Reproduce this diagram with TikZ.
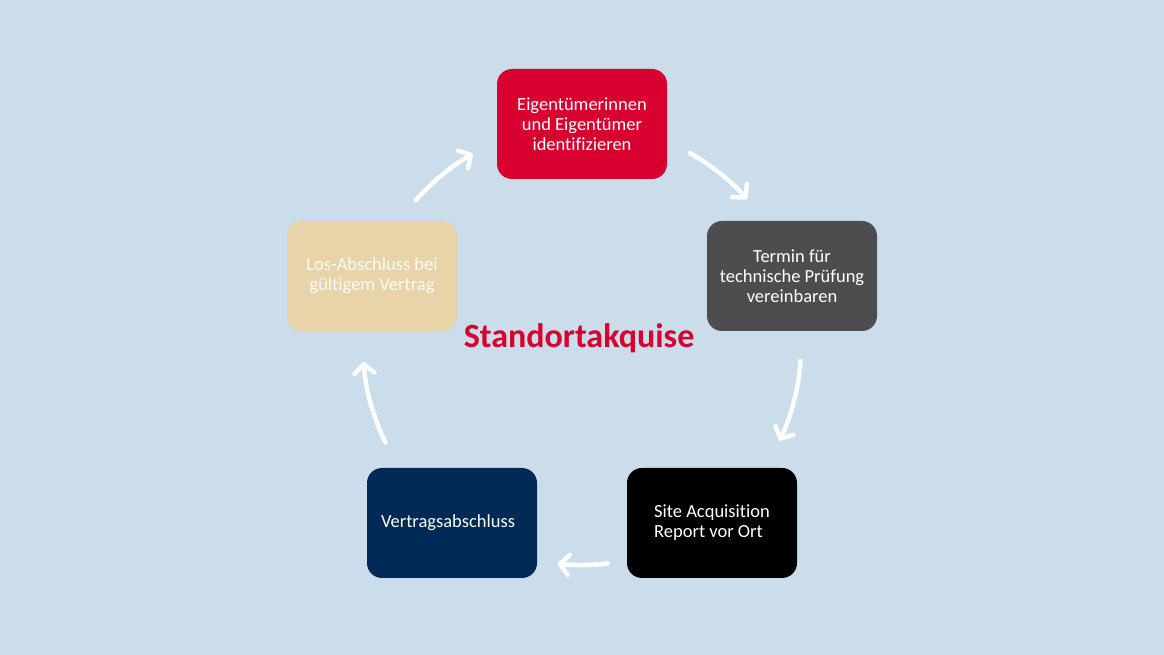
\documentclass[tikz,border=0pt]{standalone}
\usepackage{fontspec}
\setmainfont{Carlito}[Ligatures=NoCommon]
\usetikzlibrary{arrows.meta}
\definecolor{bg}{RGB}{203,221,235}
\definecolor{cred}{RGB}{215,0,46}
\definecolor{cgrey}{RGB}{77,77,79}
\definecolor{cnavy}{RGB}{0,41,86}
\definecolor{cbeige}{RGB}{232,212,168}
\begin{document}
\begin{tikzpicture}[x=1pt,y=1pt,
  stepbox/.style={rounded corners=15pt,minimum width=170pt,minimum height=110pt,
    align=center,text=white,font=\fontsize{18.5}{20}\selectfont,inner sep=0pt},
  cyc/.style={draw=white,line width=4.5pt,line cap=round,
    -{Straight Barb[length=9pt,width=20pt,line width=4.5pt,round]}}]
\fill[bg] (0,0) rectangle (1164,655);
\useasboundingbox (0,0) rectangle (1164,655);
\coordinate (C) at (582,309);
\node[stepbox,fill=cred] (red) at (582,531) {Eigentümerinnen\\und Eigentümer\\identifizieren};
\node[stepbox,fill=cgrey] (grey) at (792,379) {Termin für\\technische Prüfung\\vereinbaren};
\node[stepbox,fill=black,align=left] (black) at (712,132) {Site Acquisition\\Report vor Ort};
\node[stepbox,fill=cnavy] (navy) at (452,132) {Vertragsabschluss\hspace{8pt}};
\node[stepbox,fill=cbeige,text=white!92!cbeige] (beige) at (372,379) {Los-Abschluss bei\\gültigem Vertrag};
\node[font=\fontsize{34}{38}\selectfont\bfseries,text=cred] (title) at (579,317) {Standortakquise};
\draw[cyc] (C) ++(138.8:221) arc[start angle=138.8,end angle=119.6,radius=221];
\draw[cyc] (C) ++(60.8:221) arc[start angle=60.8,end angle=41.7,radius=221];
\draw[cyc] (C) ++(-3.9:219) arc[start angle=-3.9,end angle=-25.6,radius=219];
\draw[cyc] (C) ++(-83.2:219) arc[start angle=-83.2,end angle=-96.4,radius=219];
\draw[cyc] (C) ++(206.2:219) arc[start angle=206.2,end angle=184.2,radius=219];
\end{tikzpicture}
\end{document}
